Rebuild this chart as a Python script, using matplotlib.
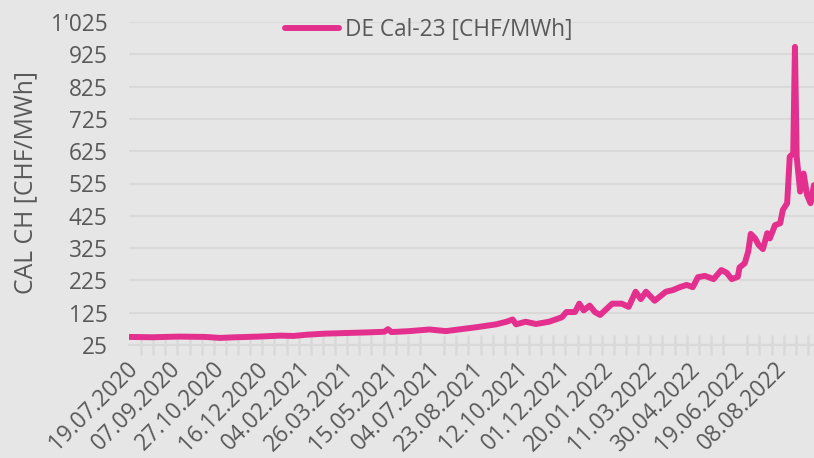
import matplotlib
matplotlib.use("Agg")
import matplotlib.pyplot as plt
import matplotlib.transforms as mtransforms
import pandas as pd

# ---- data ----
dates = ["2020-07-19", "2020-08-15", "2020-09-15", "2020-10-15", "2020-11-01", "2020-11-20",
         "2020-12-15", "2021-01-10", "2021-01-25", "2021-02-10", "2021-03-01", "2021-03-25",
         "2021-04-20", "2021-05-10", "2021-05-14", "2021-05-18", "2021-06-08", "2021-07-01",
         "2021-07-20", "2021-08-24", "2021-09-16", "2021-09-28", "2021-10-05", "2021-10-09",
         "2021-10-20", "2021-11-01", "2021-11-16", "2021-12-01", "2021-12-06", "2021-12-16",
         "2021-12-21", "2021-12-26", "2022-01-02", "2022-01-08", "2022-01-14", "2022-01-28",
         "2022-02-08", "2022-02-16", "2022-02-24", "2022-03-02", "2022-03-08", "2022-03-18",
         "2022-03-31", "2022-04-08", "2022-04-16", "2022-04-24", "2022-05-01", "2022-05-07",
         "2022-05-15", "2022-05-25", "2022-06-03", "2022-06-09", "2022-06-15", "2022-06-22",
         "2022-06-24", "2022-06-30", "2022-07-04", "2022-07-07", "2022-07-12", "2022-07-16",
         "2022-07-21", "2022-07-26", "2022-07-29", "2022-08-04", "2022-08-10", "2022-08-13",
         "2022-08-18", "2022-08-21", "2022-08-25", "2022-08-27", "2022-08-29", "2022-09-02",
         "2022-09-06", "2022-09-10", "2022-09-14", "2022-09-18"]
values = [50, 49, 51, 50, 47, 49,
          51, 54, 53, 57, 60, 62,
          64, 66, 74, 65, 68, 73,
          68, 80, 89, 97, 104, 89,
          97, 90, 97, 111, 127, 127,
          153, 132, 147, 127, 118, 153,
          153, 143, 190, 167, 190, 162,
          190, 195, 204, 211, 204, 235,
          239, 229, 257, 249, 229, 236,
          265, 278, 314, 369, 355, 335,
          322, 371, 355, 396, 402, 443,
          464, 608, 618, 948, 608, 500,
          556, 489, 464, 520]
series_name = "DE Cal-23 [CHF/MWh]"
y_label = "CAL CH [CHF/MWh]"
x_tick_labels = ["19.07.2020", "07.09.2020", "27.10.2020", "16.12.2020", "04.02.2021",
                 "26.03.2021", "15.05.2021", "04.07.2021", "23.08.2021", "12.10.2021",
                 "01.12.2021", "20.01.2022", "11.03.2022", "30.04.2022", "19.06.2022",
                 "08.08.2022"]
y_ticks = [25, 125, 225, 325, 425, 525, 625, 725, 825, 925, 1025]
y_tick_labels = ["25", "125", "225", "325", "425", "525", "625", "725", "825", "925", "1'025"]

# ---- style ----
BG = "#E7E6E6"
GRID = "#D9D9D9"
TXT = "#595959"
LINE = "#E3308F"
FS = 16.3
plt.rcParams["font.family"] = ["Open Sans", "DejaVu Sans"]

W, H = 814, 458
fig = plt.figure(figsize=(W / 100, H / 100), dpi=100, facecolor=BG)
ax = fig.add_axes([129 / W, 1 - 345 / H, (W - 129) / W, (345 - 22) / H])
ax.set_facecolor(BG)

x = pd.to_datetime(dates)
ax.plot(x, values, color=LINE, lw=4.3, solid_joinstyle="round", solid_capstyle="round",
        label=series_name)

start = pd.Timestamp("2020-07-19")
end = pd.Timestamp("2022-09-18")
ax.set_xlim(start, end)
ax.set_ylim(25, 1025)

ax.set_yticks(y_ticks)
ax.set_yticklabels(y_tick_labels)
ax.tick_params(axis="y", length=0, pad=15.5, labelsize=FS, labelcolor=TXT)
ax.yaxis.grid(True, color=GRID, lw=1.5)
ax.set_axisbelow(True)

major = pd.to_datetime(x_tick_labels, format="%d.%m.%Y")
ax.set_xticks(major)
ax.set_xticklabels(x_tick_labels, rotation=45, ha="right", va="center",
                   rotation_mode="anchor")
ax.set_xticks(pd.date_range(start, end, freq="14D"), minor=True)
ax.tick_params(axis="x", which="major", length=0, pad=15, labelsize=FS, labelcolor=TXT)
ax.tick_params(axis="x", which="minor", length=14, width=1.8, direction="inout", color=GRID)
shift = mtransforms.ScaledTranslation(5 / 100, 0, fig.dpi_scale_trans)
for lab in ax.get_xticklabels():
    lab.set_transform(lab.get_transform() + shift)

for s in ["top", "right", "left"]:
    ax.spines[s].set_visible(False)
ax.spines["bottom"].set_color(GRID)
ax.spines["bottom"].set_linewidth(1.5)

ax.set_ylabel(y_label, fontsize=17.8, color=TXT, ha="center", va="center")
ax.yaxis.set_label_coords((26 - 129) / (W - 129), (345 - 183) / (345 - 22))

ax.legend(loc="center left", bbox_to_anchor=(285 / W, 1 - 30 / H),
          bbox_transform=fig.transFigure, frameon=False, borderpad=0, borderaxespad=0,
          handlelength=2.4, handletextpad=0.25, fontsize=FS, labelcolor=TXT)

fig.savefig("out.png", dpi=100, facecolor=BG)
